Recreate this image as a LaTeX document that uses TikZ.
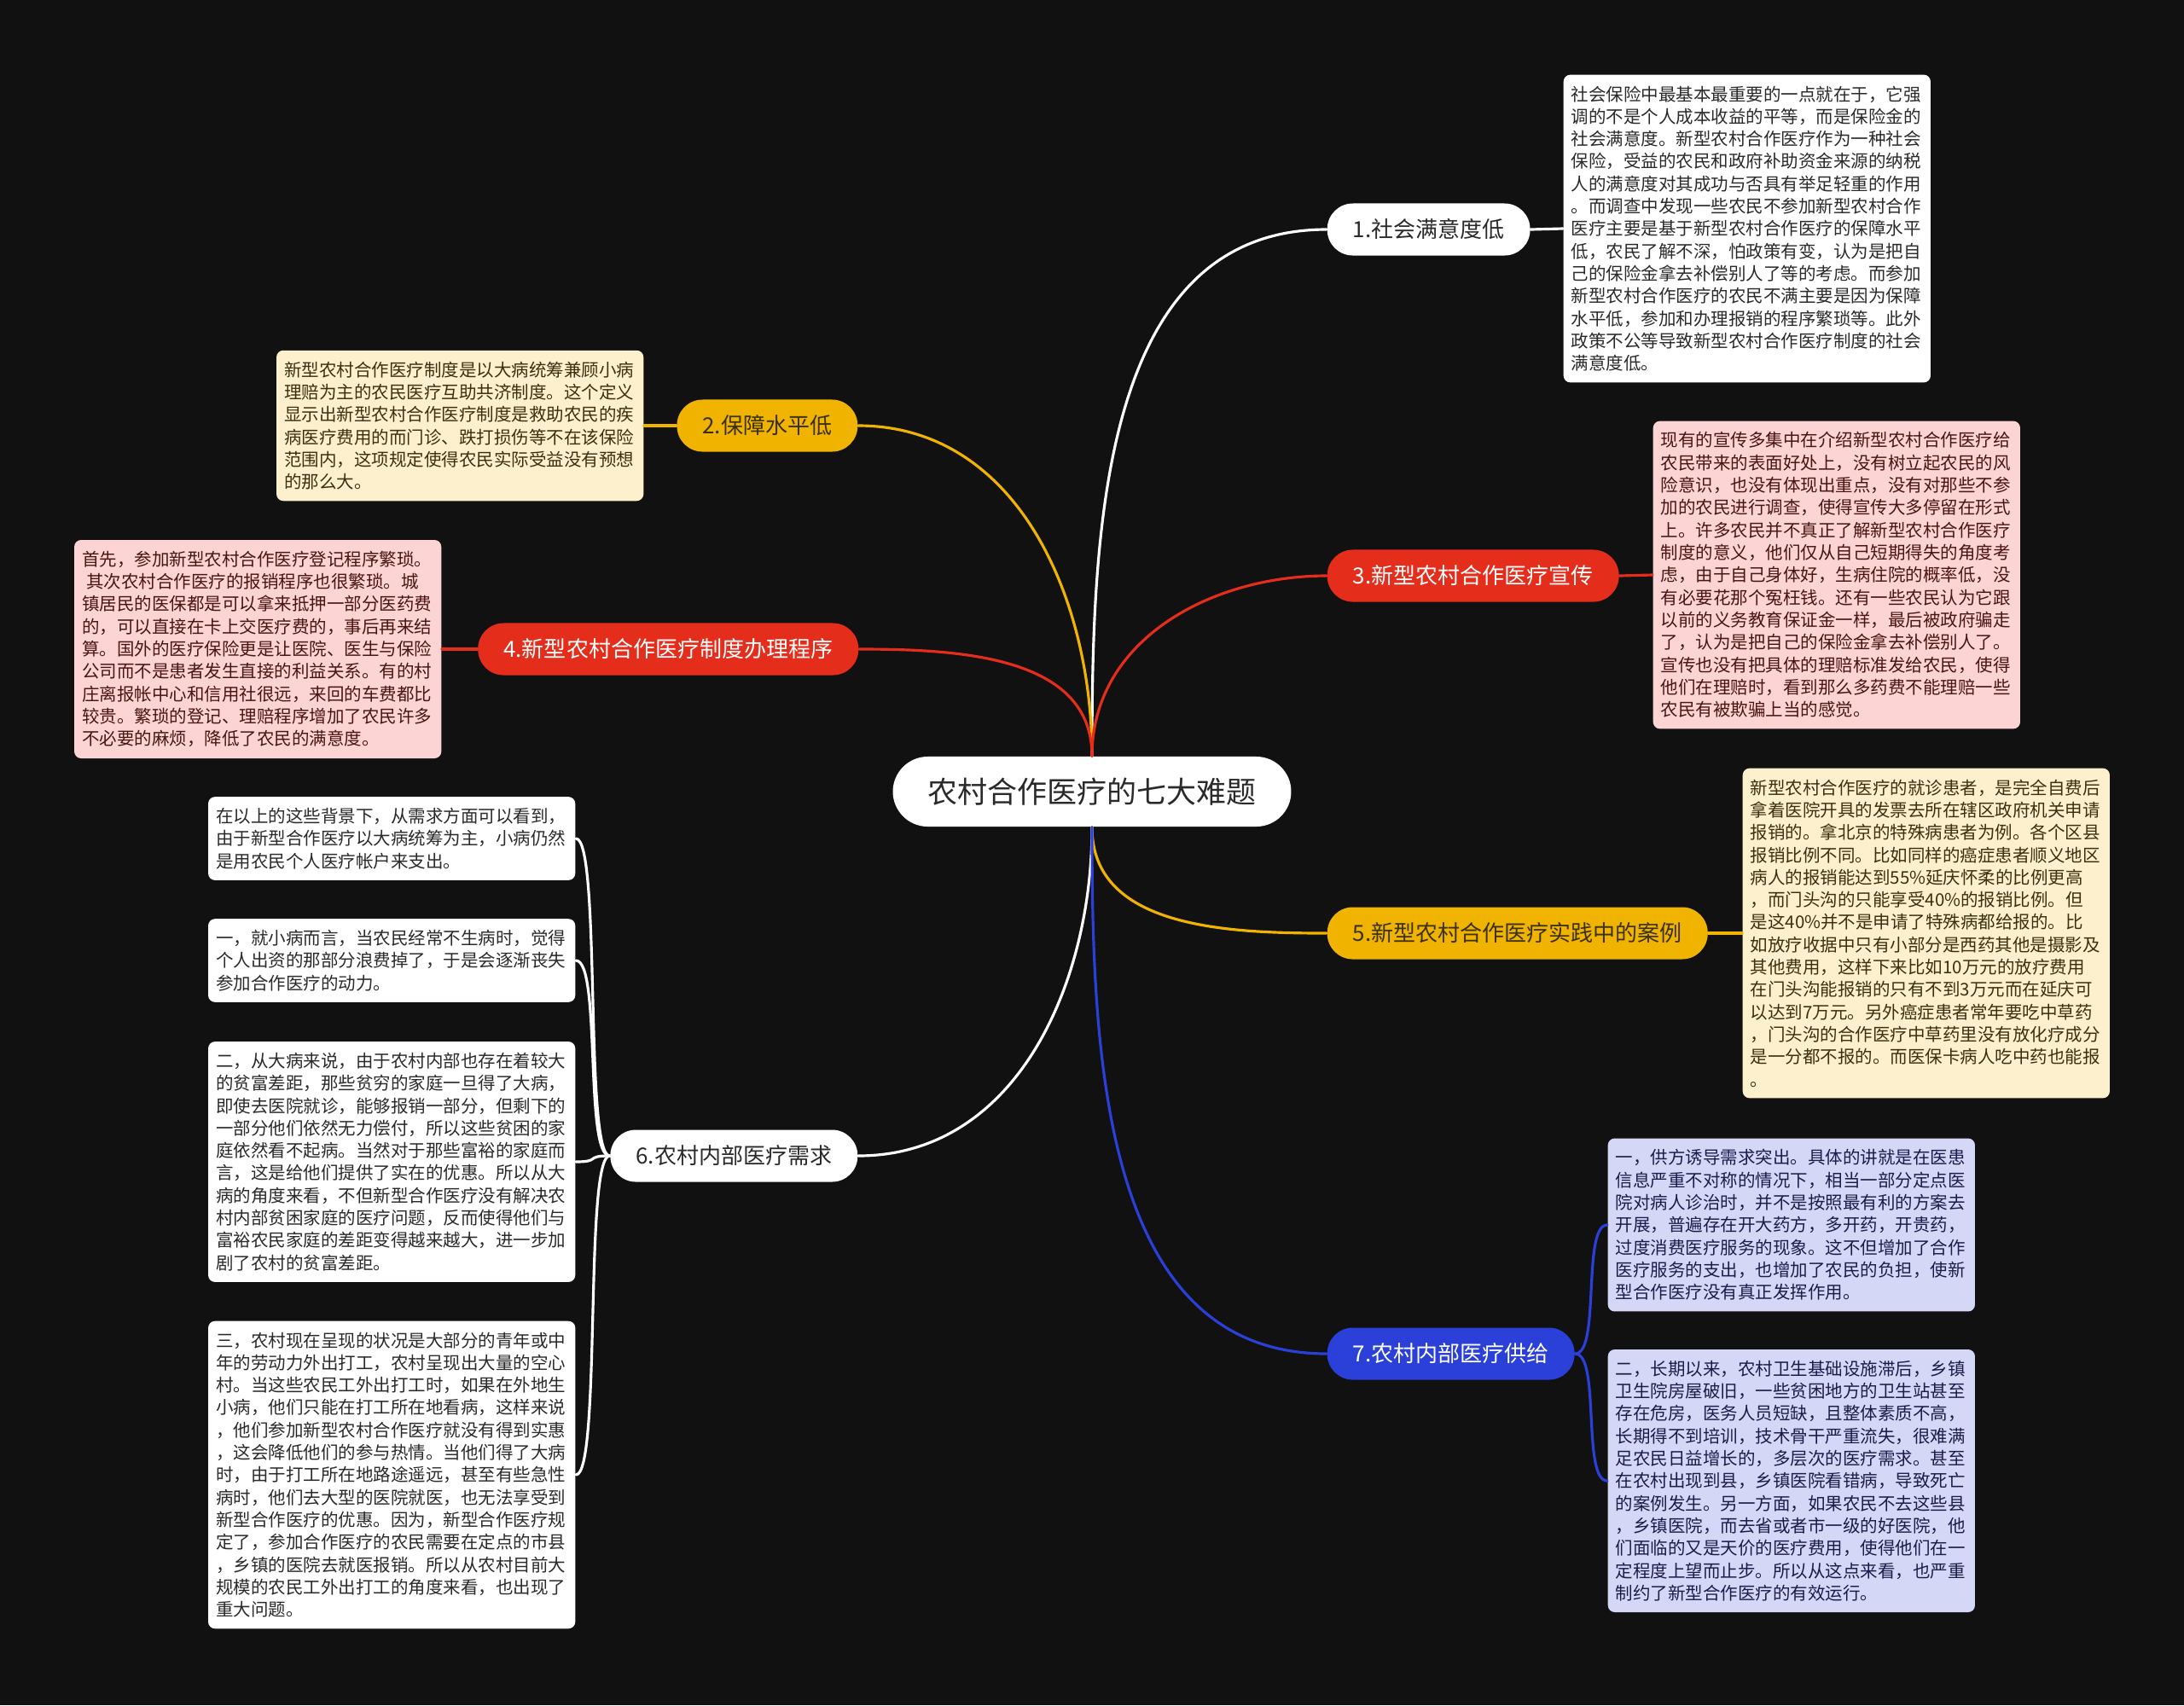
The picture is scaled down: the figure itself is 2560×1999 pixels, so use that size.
\documentclass[tikz,border=0pt]{standalone}
\usepackage{fontspec}
\setmainfont{Noto Sans CJK SC}
\definecolor{mapback}{HTML}{111111}
\definecolor{mapyellow}{HTML}{F0B400}
\definecolor{mapred}{HTML}{E52D1C}
\definecolor{mapblue}{HTML}{2A40D8}
\definecolor{mapink}{HTML}{2A2A2A}
\definecolor{notecream}{HTML}{FCF0CD}
\definecolor{notepink}{HTML}{FBD4D3}
\definecolor{notelilac}{HTML}{D5D7F7}
\definecolor{inkolive}{HTML}{3B3010}
\definecolor{inkmaroon}{HTML}{4A1512}
\definecolor{inknavy}{HTML}{1C1C4A}

\begin{document}
\begin{tikzpicture}[
  x=0.01cm,
  y=-0.01cm,
  line join=round,
  line cap=round,
  wire/.style={line width=0.9pt},
  topic/.style={fill=white,text=mapink,rounded corners=0.41cm,minimum height=0.82cm,
    inner xsep=0.41cm,font=\fontsize{9.95}{12}\selectfont},
  branch/.style={rounded corners=0.3cm,minimum height=0.61cm,inner xsep=0.3cm,
    font=\fontsize{7.4}{9}\selectfont},
  note/.style={rounded corners=0.08cm,text width=4.12cm,align=left,inner xsep=0.09cm,
    inner ysep=0.13cm,font=\fontsize{5.83}{7.48}\selectfont}
]
  % Page background, sized like the reference.
  \useasboundingbox (0,0) rectangle (2560,1999);
  \fill[mapback] (0,0) rectangle (2560,1999);

  % Central topic.
  \node[topic] (root) at (1280,928) {农村合作医疗的七大难题};

  % Seven first-level branches: right side anchored west, left side east.
  \node[branch,fill=white,text=mapink,anchor=west] (sat) at (1555,269) {1.社会满意度低};
  \node[branch,fill=mapyellow,text=inkolive,anchor=east] (level) at (1006,499) {2.保障水平低};
  \node[branch,fill=mapred,text=white,anchor=west] (promo) at (1555,675) {3.新型农村合作医疗宣传};
  \node[branch,fill=mapred,text=white,anchor=east] (proc) at (1007,761) {4.新型农村合作医疗制度办理程序};
  \node[branch,fill=mapyellow,text=inkolive,anchor=west] (case) at (1555,1094) {5.新型农村合作医疗实践中的案例};
  \node[branch,fill=white,text=mapink,anchor=east] (demand) at (1006,1355) {6.农村内部医疗需求};
  \node[branch,fill=mapblue,text=white,anchor=west] (supply) at (1555,1587) {7.农村内部医疗供给};

  % Notes, with the line breaks of the reference.
  \node[note,fill=white,text=mapink,anchor=west] (satnote) at (1832,268) {%
社会保险中最基本最重要的一点就在于，它强\\
调的不是个人成本收益的平等，而是保险金的\\
社会满意度。新型农村合作医疗作为一种社会\\
保险，受益的农民和政府补助资金来源的纳税\\
人的满意度对其成功与否具有举足轻重的作用\\
。而调查中发现一些农民不参加新型农村合作\\
医疗主要是基于新型农村合作医疗的保障水平\\
低，农民了解不深，怕政策有变，认为是把自\\
己的保险金拿去补偿别人了等的考虑。而参加\\
新型农村合作医疗的农民不满主要是因为保障\\
水平低，参加和办理报销的程序繁琐等。此外\\
政策不公等导致新型农村合作医疗制度的社会\\
满意度低。};

  \node[note,fill=notecream,text=inkolive,anchor=east] (levelnote) at (755,499) {%
新型农村合作医疗制度是以大病统筹兼顾小病\\
理赔为主的农民医疗互助共济制度。这个定义\\
显示出新型农村合作医疗制度是救助农民的疾\\
病医疗费用的而门诊、跌打损伤等不在该保险\\
范围内，这项规定使得农民实际受益没有预想\\
的那么大。};

  \node[note,fill=notepink,text=inkmaroon,anchor=west] (promonote) at (1937,674) {%
现有的宣传多集中在介绍新型农村合作医疗给\\
农民带来的表面好处上，没有树立起农民的风\\
险意识，也没有体现出重点，没有对那些不参\\
加的农民进行调查，使得宣传大多停留在形式\\
上。许多农民并不真正了解新型农村合作医疗\\
制度的意义，他们仅从自己短期得失的角度考\\
虑，由于自己身体好，生病住院的概率低，没\\
有必要花那个冤枉钱。还有一些农民认为它跟\\
以前的义务教育保证金一样，最后被政府骗走\\
了，认为是把自己的保险金拿去补偿别人了。\\
宣传也没有把具体的理赔标准发给农民，使得\\
他们在理赔时，看到那么多药费不能理赔一些\\
农民有被欺骗上当的感觉。};

  \node[note,fill=notepink,text=inkmaroon,anchor=east] (procnote) at (518,761) {%
首先，参加新型农村合作医疗登记程序繁琐。\\
\hspace*{0.25em}其次农村合作医疗的报销程序也很繁琐。城\\
镇居民的医保都是可以拿来抵押一部分医药费\\
的，可以直接在卡上交医疗费的，事后再来结\\
算。国外的医疗保险更是让医院、医生与保险\\
公司而不是患者发生直接的利益关系。有的村\\
庄离报帐中心和信用社很远，来回的车费都比\\
较贵。繁琐的登记、理赔程序增加了农民许多\\
不必要的麻烦，降低了农民的满意度。};

  \node[note,fill=notecream,text=inkolive,anchor=west] (casenote) at (2042,1094) {%
新型农村合作医疗的就诊患者，是完全自费后\\
拿着医院开具的发票去所在辖区政府机关申请\\
报销的。拿北京的特殊病患者为例。各个区县\\
报销比例不同。比如同样的癌症患者顺义地区\\
病人的报销能达到55\%延庆怀柔的比例更高\\
，而门头沟的只能享受40\%的报销比例。但\\
是这40\%并不是申请了特殊病都给报的。比\\
如放疗收据中只有小部分是西药其他是摄影及\\
其他费用，这样下来比如10万元的放疗费用\\
在门头沟能报销的只有不到3万元而在延庆可\\
以达到7万元。另外癌症患者常年要吃中草药\\
，门头沟的合作医疗中草药里没有放化疗成分\\
是一分都不报的。而医保卡病人吃中药也能报\\
。};

  \node[note,fill=white,text=mapink,anchor=east] (demandA) at (675,983) {%
在以上的这些背景下，从需求方面可以看到，\\
由于新型合作医疗以大病统筹为主，小病仍然\\
是用农民个人医疗帐户来支出。};

  \node[note,fill=white,text=mapink,anchor=east] (demandB) at (675,1126) {%
一，就小病而言，当农民经常不生病时，觉得\\
个人出资的那部分浪费掉了，于是会逐渐丧失\\
参加合作医疗的动力。};

  \node[note,fill=white,text=mapink,anchor=east] (demandC) at (675,1362) {%
二，从大病来说，由于农村内部也存在着较大\\
的贫富差距，那些贫穷的家庭一旦得了大病，\\
即使去医院就诊，能够报销一部分，但剩下的\\
一部分他们依然无力偿付，所以这些贫困的家\\
庭依然看不起病。当然对于那些富裕的家庭而\\
言，这是给他们提供了实在的优惠。所以从大\\
病的角度来看，不但新型合作医疗没有解决农\\
村内部贫困家庭的医疗问题，反而使得他们与\\
富裕农民家庭的差距变得越来越大，进一步加\\
剧了农村的贫富差距。};

  \node[note,fill=white,text=mapink,anchor=east] (demandD) at (675,1729) {%
三，农村现在呈现的状况是大部分的青年或中\\
年的劳动力外出打工，农村呈现出大量的空心\\
村。当这些农民工外出打工时，如果在外地生\\
小病，他们只能在打工所在地看病，这样来说\\
，他们参加新型农村合作医疗就没有得到实惠\\
，这会降低他们的参与热情。当他们得了大病\\
时，由于打工所在地路途遥远，甚至有些急性\\
病时，他们去大型的医院就医，也无法享受到\\
新型合作医疗的优惠。因为，新型合作医疗规\\
定了，参加合作医疗的农民需要在定点的市县\\
，乡镇的医院去就医报销。所以从农村目前大\\
规模的农民工外出打工的角度来看，也出现了\\
重大问题。};

  \node[note,fill=notelilac,text=inknavy,anchor=west] (supplyA) at (1884,1436) {%
一，供方诱导需求突出。具体的讲就是在医患\\
信息严重不对称的情况下，相当一部分定点医\\
院对病人诊治时，并不是按照最有利的方案去\\
开展，普遍存在开大药方，多开药，开贵药，\\
过度消费医疗服务的现象。这不但增加了合作\\
医疗服务的支出，也增加了农民的负担，使新\\
型合作医疗没有真正发挥作用。};

  \node[note,fill=notelilac,text=inknavy,anchor=west] (supplyB) at (1884,1736) {%
二，长期以来，农村卫生基础设施滞后，乡镇\\
卫生院房屋破旧，一些贫困地方的卫生站甚至\\
存在危房，医务人员短缺，且整体素质不高，\\
长期得不到培训，技术骨干严重流失，很难满\\
足农民日益增长的，多层次的医疗需求。甚至\\
在农村出现到县，乡镇医院看错病，导致死亡\\
的案例发生。另一方面，如果农民不去这些县\\
，乡镇医院，而去省或者市一级的好医院，他\\
们面临的又是天价的医疗费用，使得他们在一\\
定程度上望而止步。所以从这点来看，也严重\\
制约了新型合作医疗的有效运行。};

  % Curves from the central topic to each branch.
  \draw[wire,white] (root.north) to[out=90,in=180] (sat.west);
  \draw[wire,mapyellow] (root.north) to[out=90,in=0] (level.east);
  \draw[wire,mapred] (root.north) to[out=90,in=180] (promo.west);
  \draw[wire,mapred] (root.north) to[out=90,in=0] (proc.east);
  \draw[wire,mapyellow] (root.south) to[out=-90,in=180] (case.west);
  \draw[wire,white] (root.south) to[out=-90,in=0] (demand.east);
  \draw[wire,mapblue] (root.south) to[out=-90,in=180] (supply.west);

  % Branch to note links.
  \draw[wire,white] (sat.east) -- (satnote.west);
  \draw[wire,mapyellow] (level.west) -- (levelnote.east);
  \draw[wire,mapred] (promo.east) -- (promonote.west);
  \draw[wire,mapred] (proc.west) -- (procnote.east);
  \draw[wire,mapyellow] (case.east) -- (casenote.west);
  \foreach \n in {demandA,demandB,demandC,demandD} {
    \draw[wire,white] (demand.west) .. controls +(-30,0) and +(30,0) .. (\n.east);
  }
  \foreach \n in {supplyA,supplyB} {
    \draw[wire,mapblue] (supply.east) .. controls +(30,0) and +(-30,0) .. (\n.west);
  }
\end{tikzpicture}
\end{document}
